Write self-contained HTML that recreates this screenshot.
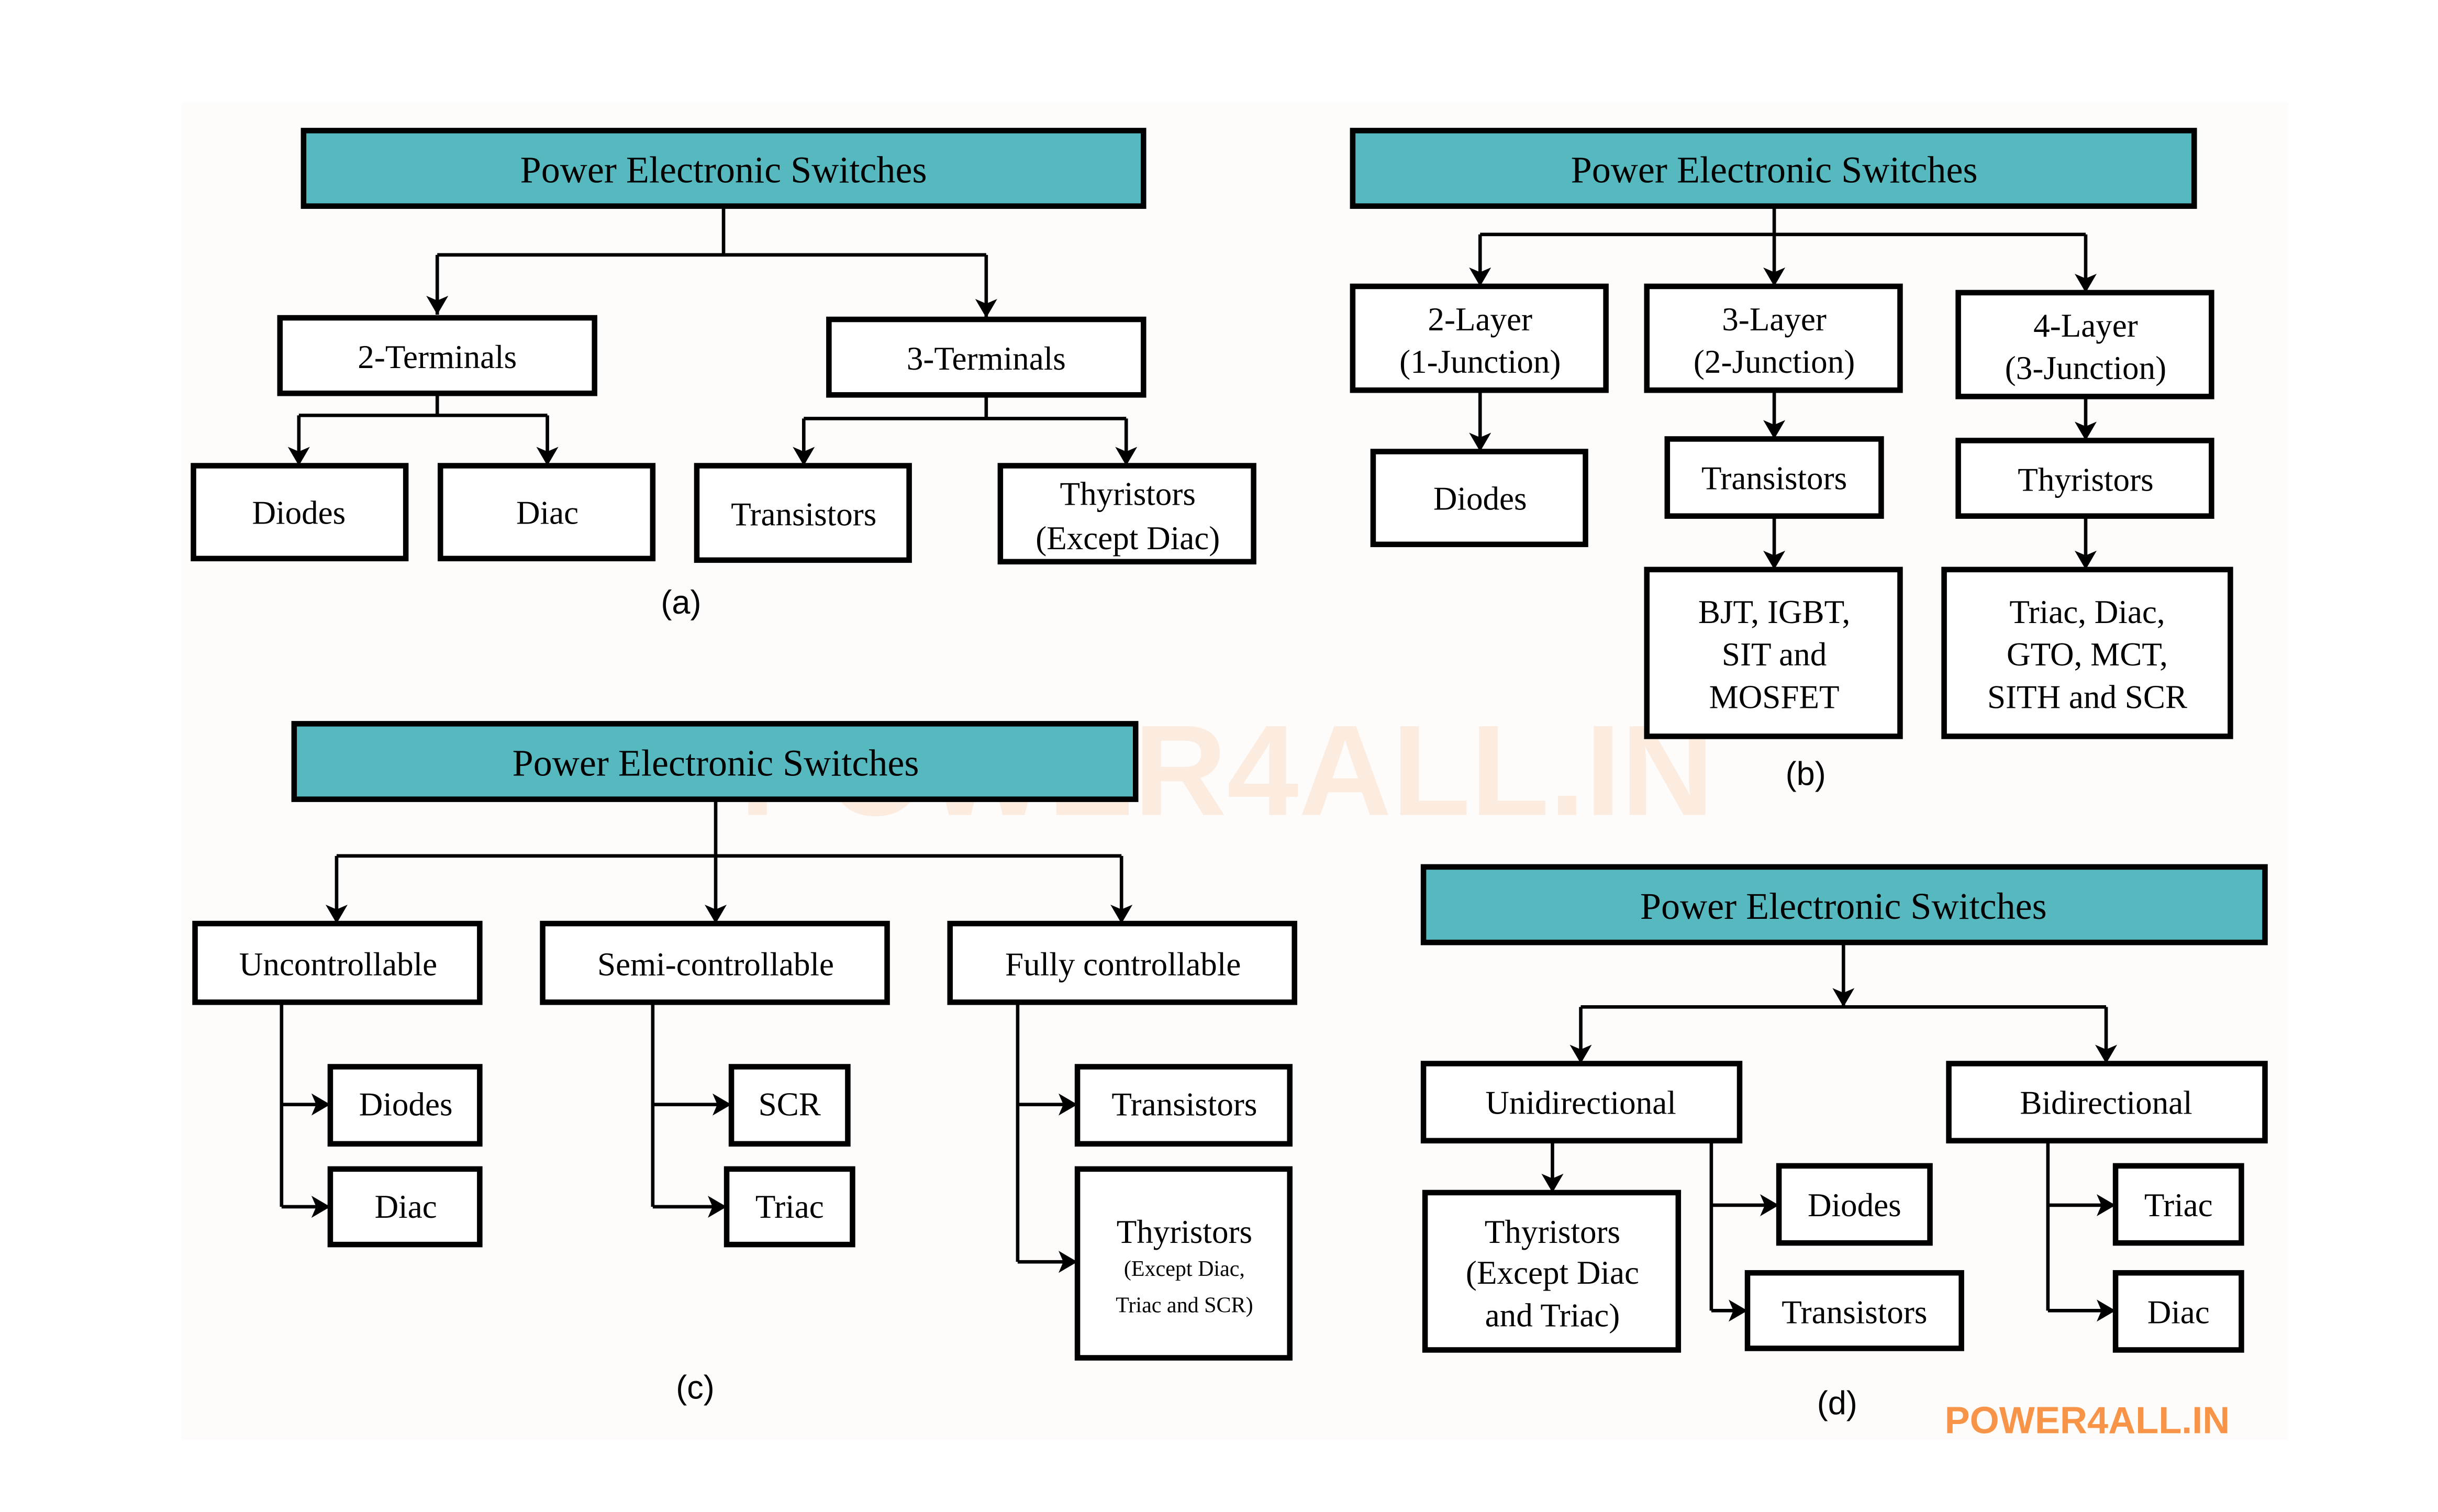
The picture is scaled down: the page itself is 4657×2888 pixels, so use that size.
<!DOCTYPE html>
<html><head><meta charset="utf-8"><style>
html,body{margin:0;padding:0;background:#fff;}
svg{display:block;}
text{font-family:"Liberation Serif",serif;fill:#000;}
.s{font-family:"Liberation Sans",sans-serif;}
</style></head><body>
<svg width="4657" height="2888" viewBox="0 0 1550 961" preserveAspectRatio="none" xmlns="http://www.w3.org/2000/svg">
<defs>
<marker id="a" markerUnits="userSpaceOnUse" markerWidth="12" markerHeight="16" viewBox="0 0 12 16" refX="12" refY="8" orient="auto">
<path d="M0,1 L12,8 L0,15 L3,8 Z" fill="#000"/>
</marker>
</defs>
<rect width="1550" height="961" fill="#fff"/>
<rect x="115" y="65" width="1340" height="850" fill="#fefcfb"/>
<!-- watermark -->
<text x="780" y="518" text-anchor="middle" class="s" font-size="82" font-weight="bold" fill="#f79447" opacity="0.15" style="fill:#f79447">POWER4ALL.IN</text>

<g fill="none" stroke="#000" stroke-width="2.2">
<!-- (a) -->
<path d="M460,131 V162 M278,162 H627"/>
<line x1="278" y1="162" x2="278" y2="200" marker-end="url(#a)"/>
<line x1="627" y1="162" x2="627" y2="202" marker-end="url(#a)"/>
<path d="M278,250 V264 M190,264 H348"/>
<line x1="190" y1="264" x2="190" y2="296" marker-end="url(#a)"/>
<line x1="348" y1="264" x2="348" y2="296" marker-end="url(#a)"/>
<path d="M627,251 V266 M511,266 H716"/>
<line x1="511" y1="266" x2="511" y2="296" marker-end="url(#a)"/>
<line x1="716" y1="266" x2="716" y2="296" marker-end="url(#a)"/>
<!-- (b) -->
<path d="M941,149 H1326"/>
<line x1="1128" y1="131" x2="1128" y2="182" marker-end="url(#a)"/>
<line x1="941" y1="149" x2="941" y2="182" marker-end="url(#a)"/>
<line x1="1326" y1="149" x2="1326" y2="186" marker-end="url(#a)"/>
<line x1="941" y1="248" x2="941" y2="287" marker-end="url(#a)"/>
<line x1="1128" y1="248" x2="1128" y2="279" marker-end="url(#a)"/>
<line x1="1128" y1="328" x2="1128" y2="362" marker-end="url(#a)"/>
<line x1="1326" y1="252" x2="1326" y2="280" marker-end="url(#a)"/>
<line x1="1326" y1="328" x2="1326" y2="362" marker-end="url(#a)"/>
<!-- (c) -->
<path d="M214,544 H713"/>
<line x1="455" y1="508" x2="455" y2="587" marker-end="url(#a)"/>
<line x1="214" y1="544" x2="214" y2="587" marker-end="url(#a)"/>
<line x1="713" y1="544" x2="713" y2="587" marker-end="url(#a)"/>
<path d="M179,637 V767"/>
<line x1="179" y1="702" x2="210" y2="702" marker-end="url(#a)"/>
<line x1="179" y1="767" x2="210" y2="767" marker-end="url(#a)"/>
<path d="M415,637 V767"/>
<line x1="415" y1="702" x2="465" y2="702" marker-end="url(#a)"/>
<line x1="415" y1="767" x2="462" y2="767" marker-end="url(#a)"/>
<path d="M647,637 V802"/>
<line x1="647" y1="702" x2="685" y2="702" marker-end="url(#a)"/>
<line x1="647" y1="802" x2="685" y2="802" marker-end="url(#a)"/>
<!-- (d) -->
<line x1="1172" y1="599" x2="1172" y2="640" marker-end="url(#a)"/>
<path d="M1005,640 H1339"/>
<line x1="1005" y1="640" x2="1005" y2="676" marker-end="url(#a)"/>
<line x1="1339" y1="640" x2="1339" y2="676" marker-end="url(#a)"/>
<line x1="987" y1="725" x2="987" y2="758" marker-end="url(#a)"/>
<path d="M1088,725 V833"/>
<line x1="1088" y1="766" x2="1131" y2="766" marker-end="url(#a)"/>
<line x1="1088" y1="833" x2="1111" y2="833" marker-end="url(#a)"/>
<path d="M1302,725 V833"/>
<line x1="1302" y1="766" x2="1345" y2="766" marker-end="url(#a)"/>
<line x1="1302" y1="833" x2="1345" y2="833" marker-end="url(#a)"/>
</g>

<!-- headers -->
<g stroke="#000" stroke-width="3.5" fill="#57b9c0">
<rect x="193" y="83" width="534" height="48"/>
<rect x="860" y="83" width="535" height="48"/>
<rect x="187" y="460" width="535" height="48"/>
<rect x="905" y="551" width="535" height="48"/>
</g>
<g font-size="24" text-anchor="middle">
<text x="460" y="116">Power Electronic Switches</text>
<text x="1128" y="116">Power Electronic Switches</text>
<text x="455" y="493">Power Electronic Switches</text>
<text x="1172" y="584">Power Electronic Switches</text>
</g>

<!-- boxes -->
<g stroke="#000" stroke-width="3.5" fill="#fff">
<rect x="178" y="202" width="200" height="48"/>
<rect x="527" y="203" width="200" height="48"/>
<rect x="123" y="296" width="135" height="59"/>
<rect x="280" y="296" width="135" height="59"/>
<rect x="443" y="296" width="135" height="60"/>
<rect x="636" y="296" width="161" height="61"/>

<rect x="860" y="182" width="161" height="66"/>
<rect x="1047" y="182" width="161" height="66"/>
<rect x="1245" y="186" width="161" height="66"/>
<rect x="873" y="287" width="135" height="59"/>
<rect x="1060" y="279" width="136" height="49"/>
<rect x="1245" y="280" width="161" height="48"/>
<rect x="1047" y="362" width="161" height="106"/>
<rect x="1236" y="362" width="182" height="106"/>

<rect x="124" y="587" width="181" height="50"/>
<rect x="345" y="587" width="219" height="50"/>
<rect x="604" y="587" width="219" height="50"/>
<rect x="210" y="678" width="95" height="49"/>
<rect x="210" y="743" width="95" height="48"/>
<rect x="465" y="678" width="74" height="49"/>
<rect x="462" y="743" width="80" height="48"/>
<rect x="685" y="678" width="135" height="49"/>
<rect x="685" y="743" width="135" height="120"/>

<rect x="905" y="676" width="201" height="49"/>
<rect x="1239" y="676" width="201" height="49"/>
<rect x="906" y="758" width="161" height="100"/>
<rect x="1131" y="741" width="96" height="49"/>
<rect x="1111" y="809" width="136" height="48"/>
<rect x="1345" y="741" width="80" height="49"/>
<rect x="1345" y="809" width="80" height="49"/>
</g>

<g font-size="21" text-anchor="middle">
<text x="278" y="234">2-Terminals</text>
<text x="627" y="235">3-Terminals</text>
<text x="190" y="333">Diodes</text>
<text x="348" y="333">Diac</text>
<text x="511" y="334">Transistors</text>
<text x="717" y="321">Thyristors</text>
<text x="717" y="349">(Except Diac)</text>

<text x="941" y="210">2-Layer</text>
<text x="941" y="237">(1-Junction)</text>
<text x="1128" y="210">3-Layer</text>
<text x="1128" y="237">(2-Junction)</text>
<text x="1326" y="214">4-Layer</text>
<text x="1326" y="241">(3-Junction)</text>
<text x="941" y="324">Diodes</text>
<text x="1128" y="311">Transistors</text>
<text x="1326" y="312">Thyristors</text>
<text x="1128" y="396">BJT, IGBT,</text>
<text x="1128" y="423">SIT and</text>
<text x="1128" y="450">MOSFET</text>
<text x="1327" y="396">Triac, Diac,</text>
<text x="1327" y="423">GTO, MCT,</text>
<text x="1327" y="450">SITH and SCR</text>

<text x="215" y="620">Uncontrollable</text>
<text x="455" y="620">Semi-controllable</text>
<text x="714" y="620">Fully controllable</text>
<text x="258" y="709">Diodes</text>
<text x="258" y="774">Diac</text>
<text x="502" y="709">SCR</text>
<text x="502" y="774">Triac</text>
<text x="753" y="709">Transistors</text>
<text x="753" y="790">Thyristors</text>
<text x="753" y="811" font-size="14">(Except Diac,</text>
<text x="753" y="834" font-size="14">Triac and SCR)</text>

<text x="1005" y="708">Unidirectional</text>
<text x="1339" y="708">Bidirectional</text>
<text x="987" y="790">Thyristors</text>
<text x="987" y="816">(Except Diac</text>
<text x="987" y="843">and Triac)</text>
<text x="1179" y="773">Diodes</text>
<text x="1179" y="841">Transistors</text>
<text x="1385" y="773">Triac</text>
<text x="1385" y="841">Diac</text>
</g>

<g class="s" font-size="21" text-anchor="middle">
<text class="s" x="433" y="390">(a)</text>
<text class="s" x="1148" y="499">(b)</text>
<text class="s" x="442" y="889">(c)</text>
<text class="s" x="1168" y="899">(d)</text>
</g>
<text x="1327" y="911" text-anchor="middle" class="s" font-size="24" font-weight="bold" style="fill:#f79447">POWER4ALL.IN</text>
</svg>
</body></html>
